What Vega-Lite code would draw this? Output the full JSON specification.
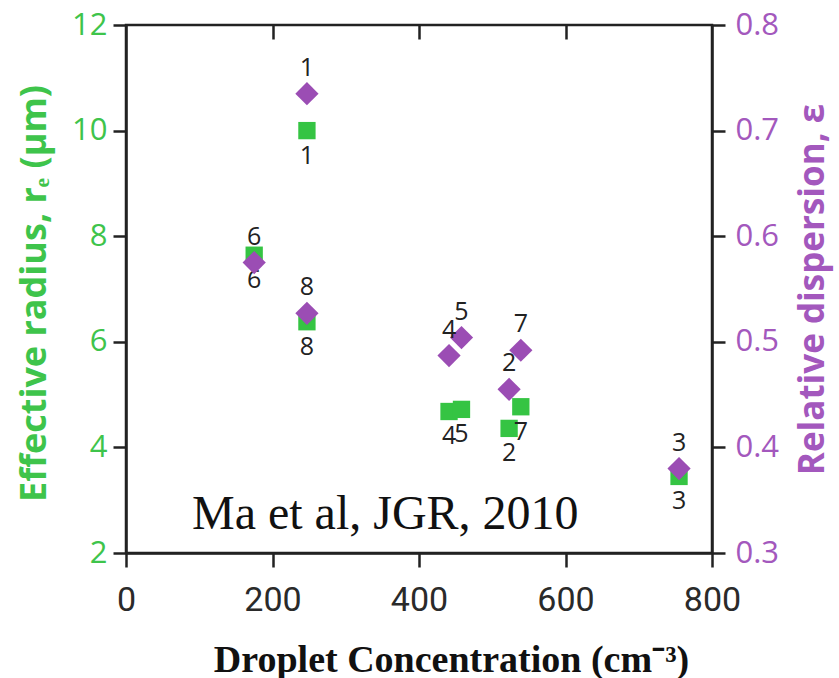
{
  "$schema": "https://vega.github.io/schema/vega-lite/v6.json",
  "width": 586,
  "height": 528,
  "autosize": "none",
  "padding": {"left": 126, "top": 25, "right": 127, "bottom": 125},
  "background": "white",
  "config": {"view": {"stroke": "#222", "strokeWidth": 2.5}},
  "data": {
    "values": [
      {"id": "1", "N": 247, "re": 10.0, "eps": 0.735},
      {"id": "2", "N": 523, "re": 4.36, "eps": 0.455},
      {"id": "3", "N": 755, "re": 3.45, "eps": 0.380},
      {"id": "4", "N": 441, "re": 4.68, "eps": 0.487},
      {"id": "5", "N": 458, "re": 4.72, "eps": 0.504},
      {"id": "6", "N": 175, "re": 7.64, "eps": 0.575},
      {"id": "7", "N": 539, "re": 4.77, "eps": 0.492},
      {"id": "8", "N": 247, "re": 6.38, "eps": 0.527}
    ]
  },
  "layer": [
    {
      "encoding": {
        "x": {
          "field": "N", "type": "quantitative",
          "scale": {"domain": [0, 800], "nice": false, "zero": false},
          "axis": {
            "orient": "bottom", "values": [0, 200, 400, 600, 800], "grid": false,
            "domainColor": "#222", "domainWidth": 2.5, "tickColor": "#222", "tickWidth": 2.5, "tickSize": 14,
            "labelFont": "Roboto", "labelFontSize": 34, "labelColor": "#2a2a2a", "labelPadding": 16, "labelFlush": false,
            "title": "Droplet Concentration (cm⁻³)", "titleFont": "Liberation Serif", "titleFontSize": 38,
            "titleFontWeight": "bold", "titleColor": "#111", "titleX": 325, "titleY": 118,
            "titleBaseline": "alphabetic", "titleAlign": "center"
          }
        },
        "y": {
          "field": "re", "type": "quantitative",
          "scale": {"domain": [2, 12], "nice": false, "zero": false},
          "axis": {
            "orient": "left", "values": [2, 4, 6, 8, 10, 12], "grid": false,
            "domainColor": "#222", "domainWidth": 2.5, "tickColor": "#222", "tickWidth": 2.5, "tickSize": 13,
            "labelFont": "Open Sans", "labelFontSize": 31, "labelColor": "#3ec44b", "labelPadding": 6,
            "labelFlush": false,
            "title": "Effective radius, rₑ (μm)", "titleFont": "Open Sans", "titleFontSize": 36,
            "titleFontWeight": "bold", "titleColor": "#3ec44b", "titleAngle": 270,
            "titleX": -92, "titleY": 268, "titleBaseline": "middle", "titleAlign": "center"
          }
        }
      },
      "layer": [
        {
          "mark": {"type": "point", "shape": "square", "filled": true, "size": 300, "color": "#35c443", "opacity": 1}
        },
        {
          "mark": {"type": "text", "dy": 25, "font": "Open Sans", "fontSize": 25, "color": "#222", "baseline": "middle"},
          "encoding": {"text": {"field": "id"}}
        }
      ]
    },
    {
      "encoding": {
        "x": {
          "field": "N", "type": "quantitative",
          "scale": {"domain": [0, 800], "nice": false, "zero": false},
          "axis": {
            "orient": "top", "values": [200, 400, 600], "grid": false, "labels": false, "title": null,
            "domain": false, "offset": -14, "tickColor": "#222", "tickWidth": 2.5, "tickSize": 14
          }
        },
        "y": {
          "field": "eps", "type": "quantitative",
          "scale": {"domain": [0.3, 0.8], "nice": false, "zero": false},
          "axis": {
            "orient": "right", "values": [0.3, 0.4, 0.5, 0.6, 0.7, 0.8], "format": ".1f", "grid": false,
            "domainColor": "#222", "domainWidth": 2.5, "tickColor": "#222", "tickWidth": 2.5, "tickSize": 13,
            "labelFont": "Open Sans", "labelFontSize": 31, "labelColor": "#a358bd", "labelPadding": 10,
            "labelFlush": false,
            "title": "Relative dispersion, ε", "titleFont": "Open Sans", "titleFontSize": 35,
            "titleFontWeight": "bold", "titleColor": "#a358bd", "titleAngle": 270,
            "titleX": 100, "titleY": 264, "titleBaseline": "middle", "titleAlign": "center"
          }
        }
      },
      "layer": [
        {
          "mark": {"type": "point", "shape": "diamond", "filled": true, "size": 540, "color": "#9b4db4", "opacity": 1}
        },
        {
          "mark": {"type": "text", "dy": -26, "font": "Open Sans", "fontSize": 25, "color": "#222", "baseline": "middle"},
          "encoding": {"text": {"field": "id"}}
        }
      ]
    },
    {
      "data": {"values": [{"N": 354, "re": 2.72, "t": "Ma et al, JGR, 2010"}]},
      "mark": {"type": "text", "font": "Liberation Serif", "fontSize": 48, "color": "#111", "baseline": "middle", "align": "center"},
      "encoding": {
        "x": {"field": "N", "type": "quantitative", "scale": {"domain": [0, 800], "nice": false, "zero": false}, "axis": null},
        "y": {"field": "re", "type": "quantitative", "scale": {"domain": [2, 12], "nice": false, "zero": false}, "axis": null},
        "text": {"field": "t"}
      }
    }
  ],
  "resolve": {"scale": {"y": "independent"}, "axis": {"x": "independent"}}
}
